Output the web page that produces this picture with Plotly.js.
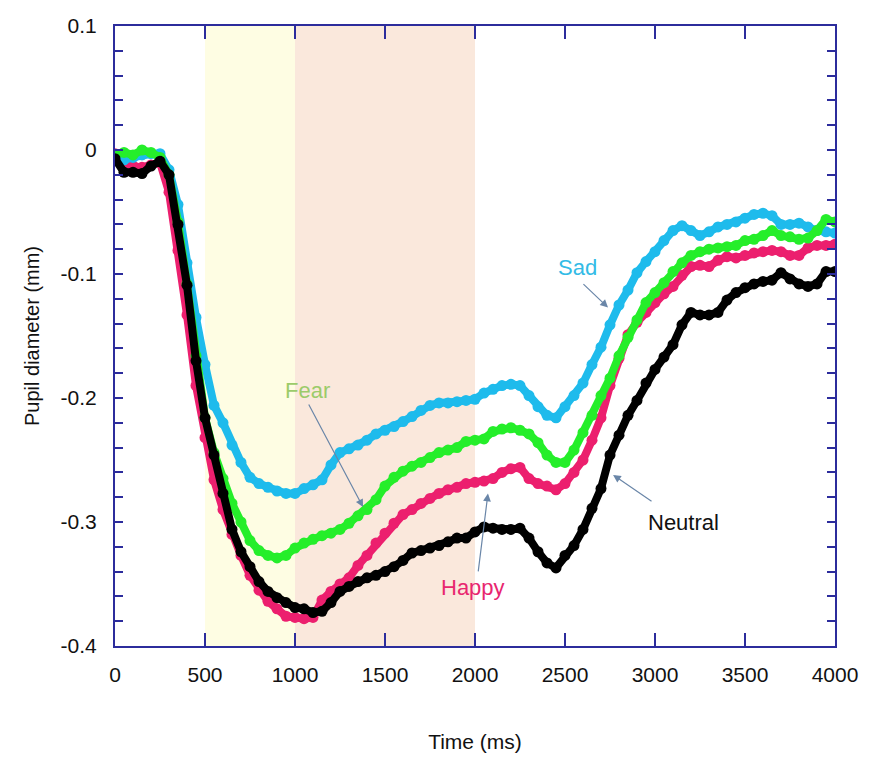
<!DOCTYPE html>
<html>
<head>
<meta charset="utf-8">
<script src="https://cdn.plot.ly/plotly-3.0.1.min.js"></script>
<style>html,body{margin:0;padding:0;background:#fff;}#chart{width:884px;height:763px;}</style>
</head>
<body>
<div id="chart"></div>
<script>
// Time (ms), sampled every 50 ms
const timeMs = [0,50,100,150,200,250,300,350,400,450,500,550,600,650,700,750,800,850,900,950,
  1000,1050,1100,1150,1200,1250,1300,1350,1400,1450,1500,1550,1600,1650,1700,1750,1800,1850,1900,1950,
  2000,2050,2100,2150,2200,2250,2300,2350,2400,2450,2500,2550,2600,2650,2700,2750,2800,2850,2900,2950,
  3000,3050,3100,3150,3200,3250,3300,3350,3400,3450,3500,3550,3600,3650,3700,3750,3800,3850,3900,3950,4000];

const happy = [-0.003,-0.010,-0.013,-0.014,-0.012,-0.010,-0.034,-0.081,-0.133,-0.190,
  -0.232,-0.266,-0.290,-0.310,-0.327,-0.343,-0.355,-0.364,-0.370,-0.376,
  -0.377,-0.378,-0.377,-0.363,-0.356,-0.350,-0.345,-0.335,-0.327,-0.317,
  -0.309,-0.301,-0.294,-0.290,-0.285,-0.281,-0.277,-0.274,-0.272,-0.269,
  -0.268,-0.267,-0.265,-0.260,-0.257,-0.256,-0.265,-0.269,-0.271,-0.274,
  -0.269,-0.260,-0.250,-0.234,-0.216,-0.190,-0.168,-0.149,-0.139,-0.131,
  -0.123,-0.116,-0.110,-0.101,-0.094,-0.093,-0.094,-0.089,-0.086,-0.087,
  -0.085,-0.083,-0.082,-0.081,-0.082,-0.085,-0.085,-0.079,-0.077,-0.077,-0.076];

const sad = [-0.006,-0.008,-0.006,-0.004,-0.003,-0.003,-0.016,-0.044,-0.091,-0.135,
  -0.173,-0.206,-0.220,-0.238,-0.252,-0.264,-0.269,-0.272,-0.275,-0.277,
  -0.277,-0.273,-0.270,-0.266,-0.254,-0.244,-0.241,-0.238,-0.234,-0.229,
  -0.226,-0.223,-0.219,-0.215,-0.210,-0.206,-0.204,-0.204,-0.203,-0.202,
  -0.201,-0.196,-0.193,-0.190,-0.189,-0.190,-0.198,-0.207,-0.214,-0.216,
  -0.207,-0.198,-0.188,-0.173,-0.159,-0.141,-0.125,-0.113,-0.099,-0.090,
  -0.082,-0.073,-0.065,-0.061,-0.065,-0.069,-0.066,-0.062,-0.060,-0.058,
  -0.055,-0.052,-0.051,-0.053,-0.060,-0.060,-0.059,-0.062,-0.065,-0.066,-0.067];

const fear = [-0.004,-0.002,-0.004,0.000,-0.002,-0.006,-0.020,-0.058,-0.108,-0.166,
  -0.216,-0.244,-0.265,-0.285,-0.300,-0.315,-0.323,-0.327,-0.329,-0.327,
  -0.321,-0.317,-0.314,-0.311,-0.309,-0.306,-0.301,-0.295,-0.290,-0.282,
  -0.271,-0.264,-0.259,-0.255,-0.252,-0.248,-0.244,-0.242,-0.240,-0.235,
  -0.234,-0.233,-0.227,-0.225,-0.224,-0.226,-0.229,-0.236,-0.246,-0.252,
  -0.252,-0.242,-0.228,-0.214,-0.198,-0.184,-0.166,-0.151,-0.137,-0.123,
  -0.115,-0.107,-0.098,-0.091,-0.085,-0.082,-0.080,-0.079,-0.078,-0.077,
  -0.073,-0.072,-0.069,-0.065,-0.069,-0.070,-0.072,-0.071,-0.065,-0.056,-0.058];

const neutral = [-0.007,-0.018,-0.018,-0.019,-0.013,-0.009,-0.020,-0.060,-0.109,-0.170,
  -0.216,-0.246,-0.277,-0.306,-0.324,-0.336,-0.348,-0.356,-0.361,-0.365,
  -0.369,-0.370,-0.373,-0.372,-0.365,-0.356,-0.352,-0.348,-0.345,-0.343,
  -0.340,-0.336,-0.331,-0.325,-0.323,-0.321,-0.319,-0.316,-0.313,-0.313,
  -0.308,-0.304,-0.305,-0.306,-0.306,-0.305,-0.313,-0.324,-0.333,-0.337,
  -0.327,-0.319,-0.306,-0.289,-0.273,-0.246,-0.230,-0.214,-0.202,-0.188,
  -0.177,-0.167,-0.157,-0.141,-0.131,-0.133,-0.133,-0.131,-0.121,-0.115,
  -0.111,-0.108,-0.106,-0.105,-0.099,-0.104,-0.108,-0.110,-0.108,-0.098,-0.098];

const seriesNames = ['Happy','Sad','Fear','Neutral'];
const seriesColors = ['#ec1f6e','#1ebbec','#25ee2a','#000000'];

const xTickVals = [0,500,1000,1500,2000,2500,3000,3500,4000];
const yTickVals = [0.1,0,-0.1,-0.2,-0.3,-0.4];
const yTickText = ['0.1','0','-0.1','-0.2','-0.3','-0.4'];

// shaded periods [start, end] (ms)
const bandStarts = [500,1000];
const bandEnds = [1000,2000];
const bandColors = ['#fefde3','#fae8dc'];

// label annotations: text, text position, arrow tail, arrow head
const labelText = ['Fear','Happy','Sad','Neutral'];
const labelX = [1067,1989,2567,3156];
const labelY = [-0.194,-0.353,-0.095,-0.300];
const labelColors = ['#9ccb6a','#e8266f','#33bbe6','#111111'];
const arrowTailX = [1072,2017,2594,2989];
const arrowTailY = [-0.204,-0.341,-0.107,-0.284];
const arrowHeadX = [1378,2072,2739,2767];
const arrowHeadY = [-0.288,-0.277,-0.127,-0.262];

const allSeries = [happy, sad, fear, neutral];
const traces = allSeries.map((vals, i) => ({
  type: 'scatter', mode: 'lines+markers', x: timeMs, y: vals, name: seriesNames[i],
  line: {color: seriesColors[i], width: 8},
  marker: {color: seriesColors[i], size: 11},
  showlegend: false, hoverinfo: 'skip'
}));

const axisColor = '#2c2c9c';
const shapes = bandStarts.map((s, i) => ({
  type: 'rect', xref: 'x', yref: 'paper', x0: s, x1: bandEnds[i], y0: 0, y1: 1,
  fillcolor: bandColors[i], line: {width: 0}, layer: 'below'
}));

const annotations = [];
labelText.forEach((t, i) => {
  annotations.push({x: labelX[i], y: labelY[i], xref: 'x', yref: 'y', text: t, showarrow: false,
    font: {family: 'Liberation Sans, Arial, sans-serif', size: 22, color: labelColors[i]}});
  annotations.push({x: arrowHeadX[i], y: arrowHeadY[i], ax: arrowTailX[i], ay: arrowTailY[i],
    xref: 'x', yref: 'y', axref: 'x', ayref: 'y', text: '', showarrow: true,
    arrowhead: 2, arrowsize: 1.3, arrowwidth: 1.2, arrowcolor: '#6a86a8', standoff: 0, startstandoff: 0});
});

const layout = {
  width: 884, height: 763,
  margin: {l: 115, r: 49, t: 26, b: 117},
  paper_bgcolor: '#ffffff', plot_bgcolor: '#ffffff',
  font: {family: 'Liberation Sans, Arial, sans-serif', size: 21, color: '#111'},
  xaxis: {
    range: [0, 4000], tickvals: xTickVals, ticks: 'inside', ticklen: 13, tickwidth: 2, tickcolor: axisColor,
    showline: true, linecolor: axisColor, linewidth: 2, mirror: 'ticks', showgrid: false, zeroline: false,
    ticklabelstandoff: 9, tickfont: {size: 21, color: '#111'},
    title: {text: 'Time (ms)', font: {size: 21, color: '#111'}, standoff: 49}
  },
  yaxis: {
    range: [-0.4, 0.1], tickvals: yTickVals, ticktext: yTickText, ticks: 'inside', ticklen: 8, tickwidth: 2,
    tickcolor: axisColor, showline: true, linecolor: axisColor, linewidth: 2, mirror: 'ticks',
    showgrid: false, zeroline: false, ticklabelstandoff: 12, tickfont: {size: 21, color: '#111'},
    minor: {dtick: 0.02, tick0: 0, ticks: 'inside', ticklen: 8, tickwidth: 2, tickcolor: axisColor, showgrid: false},
    title: {text: 'Pupil diameter (mm)', font: {size: 20, color: '#111'}, standoff: 16}
  },
  shapes: shapes,
  annotations: annotations
};

Plotly.newPlot('chart', traces, layout, {displayModeBar: false, staticPlot: true});
</script>
</body>
</html>
